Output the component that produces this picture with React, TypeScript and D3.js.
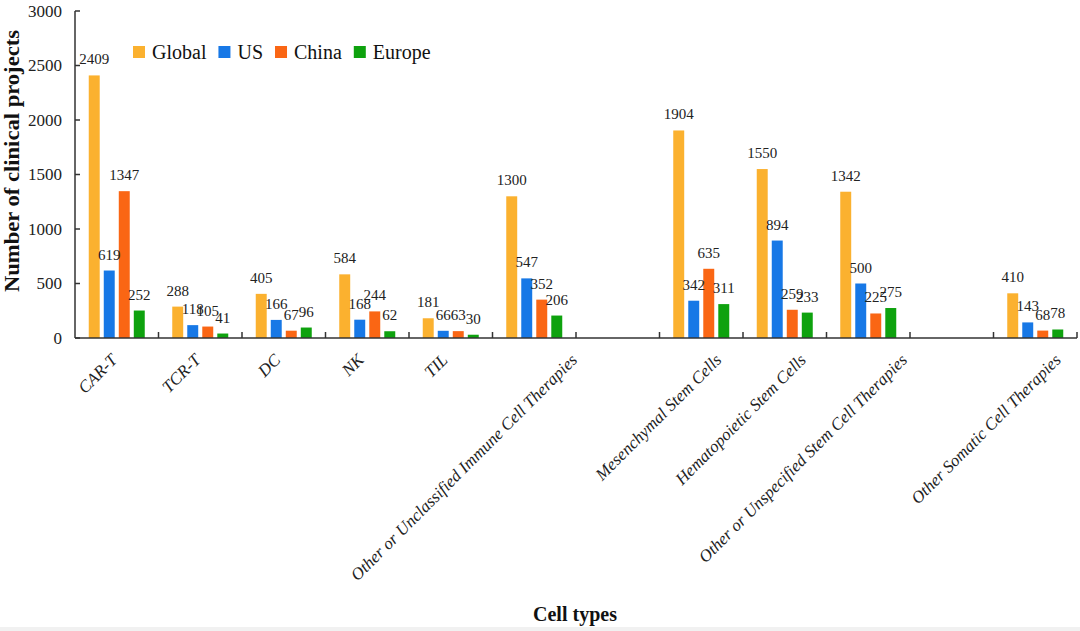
import React, { useEffect, useRef } from 'react';
import * as d3 from 'd3';

// Cell-type categories (empty strings are the blank gaps on the axis)
const categories = [
  'CAR-T',
  'TCR-T',
  'DC',
  'NK',
  'TIL',
  'Other or Unclassified Immune Cell Therapies',
  '',
  'Mesenchymal Stem Cells',
  'Hematopoietic Stem Cells',
  'Other or Unspecified Stem Cell Therapies',
  '',
  'Other Somatic Cell Therapies',
];

const seriesNames = ['Global', 'US', 'China', 'Europe'];
const seriesColors = ['#FBB12F', '#1778E6', '#FA6614', '#0EA20E'];

const globalValues = [2409, 288, 405, 584, 181, 1300, null, 1904, 1550, 1342, null, 410];
const usValues = [619, 118, 166, 168, 66, 547, null, 342, 894, 500, null, 143];
const chinaValues = [1347, 105, 67, 244, 63, 352, null, 635, 259, 225, null, 68];
const europeValues = [252, 41, 96, 62, 30, 206, null, 311, 233, 275, null, 78];

const yTicks = [0, 500, 1000, 1500, 2000, 2500, 3000];

const WIDTH = 1080;
const HEIGHT = 631;
const FONT = '"Liberation Serif", "Times New Roman", serif';

const App: React.FC = () => {
  const svgRef = useRef<SVGSVGElement | null>(null);

  useEffect(() => {
    document.body.style.margin = '0';
    if (!svgRef.current) return;
    const svg = d3.select(svgRef.current);
    svg.selectAll('*').remove();

    const margin = { top: 11, left: 75, right: 3, bottom: 293 };
    const plotRight = WIDTH - margin.right;
    const plotBottom = HEIGHT - margin.bottom;

    const allSeries = [globalValues, usValues, chinaValues, europeValues];

    const x0 = d3
      .scaleBand<number>()
      .domain(d3.range(categories.length))
      .range([margin.left, plotRight])
      .padding(0);

    const x1 = d3
      .scaleBand<number>()
      .domain(d3.range(seriesNames.length))
      .range([-28, 28])
      .paddingInner(0.27)
      .paddingOuter(0);

    const y = d3.scaleLinear().domain([0, 3000]).range([plotBottom, margin.top]);

    svg.append('rect').attr('width', WIDTH).attr('height', HEIGHT).attr('fill', '#fff');
    // faint strip along the bottom edge
    svg.append('rect').attr('y', 627).attr('width', WIDTH).attr('height', 4).attr('fill', '#f1f1f1');

    // bars
    const groups = svg
      .append('g')
      .selectAll('g')
      .data(categories.map((_, i) => i))
      .join('g')
      .attr('transform', (i) => `translate(${x0(i)! + x0.bandwidth() / 2},0)`);

    const pts = (i: number) =>
      allSeries
        .map((s, k) => ({ k, v: s[i] }))
        .filter((d) => d.v !== null) as { k: number; v: number }[];

    groups
      .selectAll('rect')
      .data(pts)
      .join('rect')
      .attr('x', (d) => x1(d.k)!)
      .attr('width', x1.bandwidth())
      .attr('y', (d) => y(d.v))
      .attr('height', (d) => y(0) - y(d.v))
      .attr('fill', (d) => seriesColors[d.k]);

    // value labels
    groups
      .selectAll('text')
      .data(pts)
      .join('text')
      .attr('x', (d) => x1(d.k)! + x1.bandwidth() / 2)
      .attr('y', (d) => y(d.v) - 11)
      .attr('text-anchor', 'middle')
      .attr('font-family', FONT)
      .attr('font-size', 15)
      .attr('fill', '#222')
      .text((d) => d.v);

    // axes lines
    const axisColor = '#333';
    svg
      .append('line')
      .attr('x1', margin.left)
      .attr('x2', margin.left)
      .attr('y1', y(3000))
      .attr('y2', y(0))
      .attr('stroke', axisColor)
      .attr('stroke-width', 1.5);
    svg
      .append('line')
      .attr('x1', margin.left)
      .attr('x2', plotRight)
      .attr('y1', y(0))
      .attr('y2', y(0))
      .attr('stroke', axisColor)
      .attr('stroke-width', 1.5);

    // y ticks (inside) and labels
    const yAxis = svg.append('g');
    yTicks.forEach((t) => {
      yAxis
        .append('line')
        .attr('x1', margin.left)
        .attr('x2', margin.left + 5)
        .attr('y1', y(t))
        .attr('y2', y(t))
        .attr('stroke', axisColor)
        .attr('stroke-width', 1.5);
      yAxis
        .append('text')
        .attr('x', 62)
        .attr('y', y(t))
        .attr('dy', '0.35em')
        .attr('text-anchor', 'end')
        .attr('font-family', FONT)
        .attr('font-size', 17)
        .attr('fill', '#222')
        .text(t);
    });

    // x ticks at category boundaries (inside)
    d3.range(1, categories.length + 1).forEach((i) => {
      const xx = x0(i - 1)! + x0.bandwidth();
      svg
        .append('line')
        .attr('x1', xx)
        .attr('x2', xx)
        .attr('y1', y(0))
        .attr('y2', y(0) - 6)
        .attr('stroke', axisColor)
        .attr('stroke-width', 1.5);
    });

    // category labels, rotated -45
    categories.forEach((c, i) => {
      if (!c) return;
      const t = svg
        .append('text')
        .attr('font-family', FONT)
        .attr('font-style', 'italic')
        .attr('font-size', 17)
        .attr('fill', '#222')
        .attr('text-anchor', 'end')
        .text(c);
      const w = (t.node() as SVGTextElement).getComputedTextLength();
      const shift = 0.16 * w - 6;
      const cx = x0(i)! + x0.bandwidth() / 2 + shift;
      t.attr('transform', `translate(${cx},361) rotate(-45)`);
    });

    // axis titles
    svg
      .append('text')
      .attr('transform', `translate(19,161) rotate(-90)`)
      .attr('text-anchor', 'middle')
      .attr('font-family', FONT)
      .attr('font-weight', 'bold')
      .attr('font-size', 20)
      .attr('textLength', 262)
      .attr('lengthAdjust', 'spacingAndGlyphs')
      .attr('fill', '#111')
      .text('Number of clinical projects');

    svg
      .append('text')
      .attr('x', 575)
      .attr('y', 621)
      .attr('text-anchor', 'middle')
      .attr('font-family', FONT)
      .attr('font-weight', 'bold')
      .attr('font-size', 20)
      .attr('fill', '#111')
      .text('Cell types');

    // legend
    const legend = svg.append('g');
    let lx = 133;
    seriesNames.forEach((name, k) => {
      legend
        .append('rect')
        .attr('x', lx)
        .attr('y', 46)
        .attr('width', 12)
        .attr('height', 12)
        .attr('fill', seriesColors[k]);
      const t = legend
        .append('text')
        .attr('x', lx + 19)
        .attr('y', 59)
        .attr('font-family', FONT)
        .attr('font-size', 20)
        .attr('fill', '#111')
        .text(name);
      const w = (t.node() as SVGTextElement).getComputedTextLength();
      lx += 19 + w + 12;
    });
  }, []);

  return <svg ref={svgRef} width={WIDTH} height={HEIGHT} style={{ display: 'block' }} />;
};

export default App;
